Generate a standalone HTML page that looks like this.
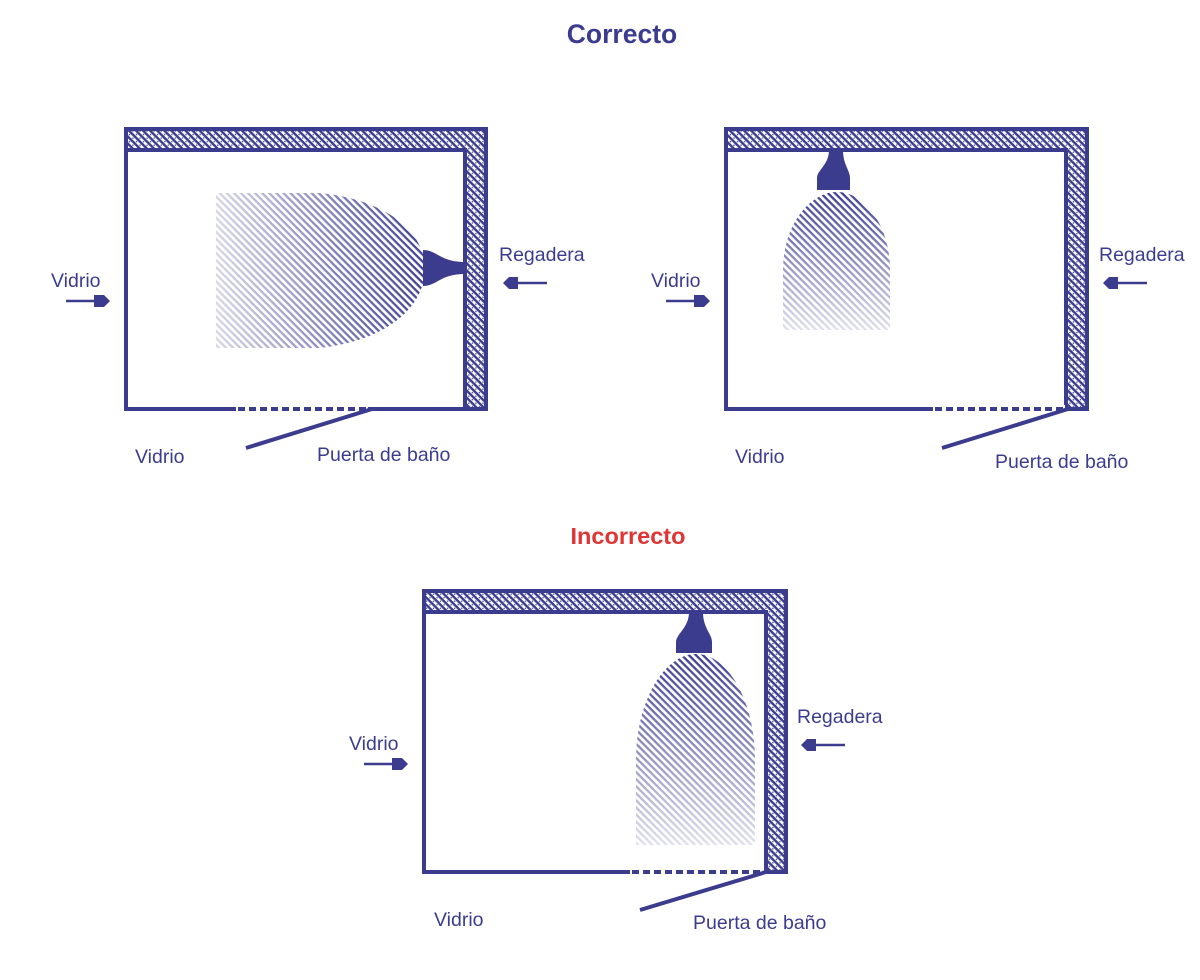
<!DOCTYPE html>
<html><head><meta charset="utf-8"><style>
html,body{margin:0;padding:0;background:#fff;}
svg{display:block;}
text{font-family:"Liberation Sans",sans-serif;fill:#3c3c8f;}
</style></head><body>
<svg width="1200" height="980" viewBox="0 0 1200 980" xmlns="http://www.w3.org/2000/svg">
<defs>
<pattern id="wall" width="5" height="5" patternUnits="userSpaceOnUse" patternTransform="rotate(45)">
<rect width="5" height="5" fill="#fff"/>
<rect width="5" height="2.4" fill="#3c3c8f"/>
<rect x="1" y="3" width="1.3" height="1.3" fill="#3c3c8f"/>
</pattern>
<pattern id="spray" width="5" height="5" patternUnits="userSpaceOnUse" patternTransform="rotate(45)">
<rect width="5" height="2.3" fill="#3c3c8f"/>
</pattern>
<linearGradient id="gh" x1="0" y1="0" x2="1" y2="0">
<stop offset="0" stop-color="#fff" stop-opacity="0.8"/>
<stop offset="1" stop-color="#fff" stop-opacity="0"/>
</linearGradient>
<linearGradient id="gv" x1="0" y1="0" x2="0" y2="1">
<stop offset="0" stop-color="#fff" stop-opacity="0"/>
<stop offset="1" stop-color="#fff" stop-opacity="0.85"/>
</linearGradient>
</defs>

<text x="622" y="43" text-anchor="middle" font-size="26.5" font-weight="bold">Correcto</text>
<text x="628" y="544" text-anchor="middle" font-size="23.5" font-weight="bold" style="fill:#e03535">Incorrecto</text>

<!-- Diagram 1 -->
<g>
<rect x="126" y="129" width="360" height="21" fill="url(#wall)"/>
<rect x="465" y="129" width="21" height="280" fill="url(#wall)"/>
<rect x="126" y="129" width="360" height="280" fill="none" stroke="#3c3c8f" stroke-width="4"/>
<polyline points="126,150 465,150 465,409" fill="none" stroke="#3c3c8f" stroke-width="4"/>
<rect x="236" y="405" width="132" height="8" fill="#fff"/>
<line x1="238" y1="409" x2="370" y2="409" stroke="#3c3c8f" stroke-width="4" stroke-dasharray="7,4"/>
<line x1="246" y1="448" x2="372" y2="409" stroke="#3c3c8f" stroke-width="4"/>
<path d="M216,193 L320,193 C390,200 425,235 425,268 C425,305 390,340 320,348 L216,348 Z" fill="url(#spray)"/>
<path d="M214,191 L430,191 L430,350 L214,350 Z" fill="url(#gh)"/>
<path d="M423,250 C437,250 440,262 465,262 L465,274 C440,274 437,286 423,286 Z" fill="#3c3c8f"/>
<text x="51" y="287" font-size="19.5">Vidrio</text>
<line x1="66" y1="301" x2="96" y2="301" stroke="#3c3c8f" stroke-width="2.5"/>
<path d="M94,295 L104,295 L110,301 L104,307 L94,307 Z" fill="#3c3c8f"/>
<text x="499" y="261" font-size="19.5">Regadera</text>
<line x1="516" y1="283" x2="547" y2="283" stroke="#3c3c8f" stroke-width="2.5"/>
<path d="M518,277 L509,277 L503,283 L509,289 L518,289 Z" fill="#3c3c8f"/>
<text x="135" y="463" font-size="19.5">Vidrio</text>
<text x="317" y="461" font-size="19.5">Puerta de baño</text>
</g>

<!-- Diagram 2 -->
<g>
<rect x="726" y="129" width="361" height="21" fill="url(#wall)"/>
<rect x="1066" y="129" width="21" height="280" fill="url(#wall)"/>
<rect x="726" y="129" width="361" height="280" fill="none" stroke="#3c3c8f" stroke-width="4"/>
<polyline points="726,150 1066,150 1066,409" fill="none" stroke="#3c3c8f" stroke-width="4"/>
<rect x="933" y="405" width="132" height="8" fill="#fff"/>
<line x1="935" y1="409" x2="1064" y2="409" stroke="#3c3c8f" stroke-width="4" stroke-dasharray="7,4"/>
<line x1="942" y1="448" x2="1068" y2="409" stroke="#3c3c8f" stroke-width="4"/>
<path d="M783,330 L783,270 C783,225 810,192 837,192 C864,192 890,225 890,270 L890,330 Z" fill="url(#spray)"/>
<rect x="781" y="190" width="112" height="142" fill="url(#gv)"/>
<path d="M829,150 L843,150 C843,165 850,170 850,178 L850,190 L817,190 L817,178 C817,170 829,165 829,150 Z" fill="#3c3c8f"/>
<text x="651" y="287" font-size="19.5">Vidrio</text>
<line x1="666" y1="301" x2="696" y2="301" stroke="#3c3c8f" stroke-width="2.5"/>
<path d="M694,295 L704,295 L710,301 L704,307 L694,307 Z" fill="#3c3c8f"/>
<text x="1099" y="261" font-size="19.5">Regadera</text>
<line x1="1116" y1="283" x2="1147" y2="283" stroke="#3c3c8f" stroke-width="2.5"/>
<path d="M1118,277 L1109,277 L1103,283 L1109,289 L1118,289 Z" fill="#3c3c8f"/>
<text x="735" y="463" font-size="19.5">Vidrio</text>
<text x="995" y="468" font-size="19.5">Puerta de baño</text>
</g>

<!-- Diagram 3 -->
<g>
<rect x="424" y="591" width="362" height="21" fill="url(#wall)"/>
<rect x="766" y="591" width="20" height="281" fill="url(#wall)"/>
<rect x="424" y="591" width="362" height="281" fill="none" stroke="#3c3c8f" stroke-width="4"/>
<polyline points="424,612 766,612 766,872" fill="none" stroke="#3c3c8f" stroke-width="4"/>
<rect x="630" y="868" width="134" height="8" fill="#fff"/>
<line x1="632" y1="872" x2="764" y2="872" stroke="#3c3c8f" stroke-width="4" stroke-dasharray="7,4"/>
<line x1="640" y1="910" x2="766" y2="872" stroke="#3c3c8f" stroke-width="4"/>
<path d="M636,845 L636,760 C636,700 665,654 696,654 C727,654 755,700 755,760 L755,845 Z" fill="url(#spray)"/>
<rect x="634" y="652" width="124" height="196" fill="url(#gv)"/>
<path d="M689,612 L703,612 C703,628 712,634 712,642 L712,653 L676,653 L676,642 C676,634 689,628 689,612 Z" fill="#3c3c8f"/>
<text x="349" y="750" font-size="19.5">Vidrio</text>
<line x1="364" y1="764" x2="394" y2="764" stroke="#3c3c8f" stroke-width="2.5"/>
<path d="M392,758 L402,758 L408,764 L402,770 L392,770 Z" fill="#3c3c8f"/>
<text x="797" y="723" font-size="19.5">Regadera</text>
<line x1="814" y1="745" x2="845" y2="745" stroke="#3c3c8f" stroke-width="2.5"/>
<path d="M816,739 L807,739 L801,745 L807,751 L816,751 Z" fill="#3c3c8f"/>
<text x="434" y="926" font-size="19.5">Vidrio</text>
<text x="693" y="929" font-size="19.5">Puerta de baño</text>
</g>
</svg>
</body></html>
